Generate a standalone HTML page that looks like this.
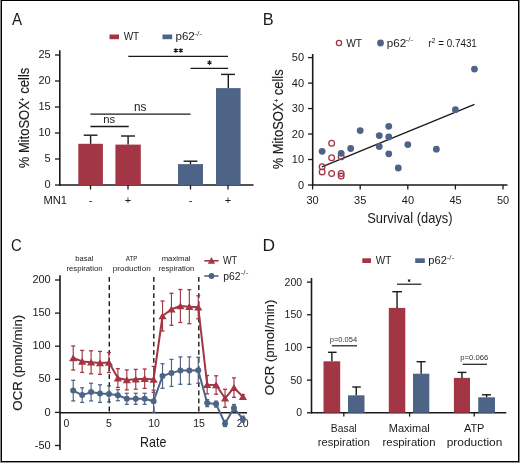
<!DOCTYPE html>
<html><head><meta charset="utf-8"><style>
html,body{margin:0;padding:0;background:#fff;}
svg{display:block;font-family:"Liberation Sans",sans-serif;will-change:transform;}
</style></head><body>
<svg width="520" height="463" viewBox="0 0 520 463">
<rect x="0" y="0" width="520" height="463" fill="#ffffff"/>
<rect x="0" y="0" width="1" height="463" fill="#888"/>
<rect x="519" y="0" width="1" height="463" fill="#888"/>
<rect x="0" y="462" width="520" height="1" fill="#999"/>
<rect x="1" y="0" width="1" height="462" fill="#000"/>
<rect x="518" y="0" width="1" height="462" fill="#000"/>
<rect x="1" y="0" width="518" height="1" fill="#000"/>
<rect x="1" y="461" width="518" height="1" fill="#000"/>
<text transform="translate(11.97,25.00) scale(0.8871,1)" font-size="17" fill="#1a1a1a">A</text>
<rect x="109.5" y="34.5" width="9.50" height="4.70" fill="#a23645"/>
<text transform="translate(123.66,40.30) scale(0.9107,1)" font-size="11" fill="#1a1a1a">WT</text>
<rect x="162.5" y="34.5" width="9.70" height="4.70" fill="#4e6486"/>
<text transform="translate(175.45,40.30) scale(1.0532,1)" font-size="11" fill="#1a1a1a">p62</text>
<text transform="translate(194.23,35.50) scale(1.2030,1)" font-size="7" fill="#444">-/-</text>
<line x1="59.8" y1="50.2" x2="59.8" y2="185.7" stroke="#1a1a1a" stroke-width="1.6" />
<line x1="59" y1="185" x2="253.5" y2="185" stroke="#1a1a1a" stroke-width="1.6" />
<line x1="55" y1="55" x2="59.8" y2="55" stroke="#1a1a1a" stroke-width="1.3" />
<text transform="translate(38.43,57.90) scale(1.0000,1)" font-size="11" fill="#1a1a1a">25</text>
<line x1="55" y1="81" x2="59.8" y2="81" stroke="#1a1a1a" stroke-width="1.3" />
<text transform="translate(38.39,83.90) scale(1.0000,1)" font-size="11" fill="#1a1a1a">20</text>
<line x1="55" y1="107" x2="59.8" y2="107" stroke="#1a1a1a" stroke-width="1.3" />
<text transform="translate(38.43,109.90) scale(1.0000,1)" font-size="11" fill="#1a1a1a">15</text>
<line x1="55" y1="133" x2="59.8" y2="133" stroke="#1a1a1a" stroke-width="1.3" />
<text transform="translate(38.39,135.90) scale(1.0000,1)" font-size="11" fill="#1a1a1a">10</text>
<line x1="55" y1="159" x2="59.8" y2="159" stroke="#1a1a1a" stroke-width="1.3" />
<text transform="translate(44.54,161.90) scale(1.0000,1)" font-size="11" fill="#1a1a1a">5</text>
<line x1="55" y1="185" x2="59.8" y2="185" stroke="#1a1a1a" stroke-width="1.3" />
<text transform="translate(44.51,187.90) scale(1.0000,1)" font-size="11" fill="#1a1a1a">0</text>
<line x1="90.5" y1="185" x2="90.5" y2="189.5" stroke="#1a1a1a" stroke-width="1.3" />
<text transform="translate(88.67,204.00) scale(1.0000,1)" font-size="11" fill="#1a1a1a">-</text>
<line x1="128" y1="185" x2="128" y2="189.5" stroke="#1a1a1a" stroke-width="1.3" />
<text transform="translate(124.79,204.00) scale(1.0000,1)" font-size="11" fill="#1a1a1a">+</text>
<line x1="190.5" y1="185" x2="190.5" y2="189.5" stroke="#1a1a1a" stroke-width="1.3" />
<text transform="translate(188.67,204.00) scale(1.0000,1)" font-size="11" fill="#1a1a1a">-</text>
<line x1="228" y1="185" x2="228" y2="189.5" stroke="#1a1a1a" stroke-width="1.3" />
<text transform="translate(224.79,204.00) scale(1.0000,1)" font-size="11" fill="#1a1a1a">+</text>
<text transform="translate(43.48,203.50) scale(1.0145,1)" font-size="11" fill="#1a1a1a">MN1</text>
<rect x="78.3" y="143.8" width="24.60" height="41.20" fill="#a23645"/>
<line x1="90.6" y1="135.2" x2="90.6" y2="143.8" stroke="#1a1a1a" stroke-width="1.4" />
<line x1="83.7" y1="135.2" x2="97.5" y2="135.2" stroke="#1a1a1a" stroke-width="1.4" />
<rect x="115.4" y="144.6" width="25.40" height="40.40" fill="#a23645"/>
<line x1="128.10000000000002" y1="136" x2="128.10000000000002" y2="144.6" stroke="#1a1a1a" stroke-width="1.4" />
<line x1="121" y1="136" x2="135" y2="136" stroke="#1a1a1a" stroke-width="1.4" />
<rect x="178" y="164.1" width="25.00" height="20.90" fill="#4e6486"/>
<line x1="190.5" y1="161.2" x2="190.5" y2="164.1" stroke="#1a1a1a" stroke-width="1.4" />
<line x1="183.6" y1="161.2" x2="197.4" y2="161.2" stroke="#1a1a1a" stroke-width="1.4" />
<rect x="216" y="88.1" width="24.60" height="96.90" fill="#4e6486"/>
<line x1="228.3" y1="74.4" x2="228.3" y2="88.1" stroke="#1a1a1a" stroke-width="1.4" />
<line x1="221" y1="74.4" x2="235" y2="74.4" stroke="#1a1a1a" stroke-width="1.4" />
<line x1="90.4" y1="126.5" x2="128.7" y2="126.5" stroke="#1a1a1a" stroke-width="1.3" />
<text transform="translate(103.15,122.50) scale(0.9598,1)" font-size="11.8" fill="#1a1a1a">ns</text>
<line x1="90.4" y1="114.2" x2="190.5" y2="114.2" stroke="#1a1a1a" stroke-width="1.25" />
<text transform="translate(134.02,110.60) scale(0.9787,1)" font-size="12" fill="#1a1a1a">ns</text>
<line x1="128.3" y1="56.4" x2="228" y2="56.4" stroke="#1a1a1a" stroke-width="1.25" />
<path d="M175.80 48.20L175.80 52.80M173.81 49.35L177.79 51.65M177.79 49.35L173.81 51.65" stroke="#1a1a1a" stroke-width="1.1" fill="none"/>
<path d="M180.80 48.20L180.80 52.80M178.81 49.35L182.79 51.65M182.79 49.35L178.81 51.65" stroke="#1a1a1a" stroke-width="1.1" fill="none"/>
<line x1="190.5" y1="68.3" x2="228.2" y2="68.3" stroke="#1a1a1a" stroke-width="1.25" />
<path d="M209.50 60.30L209.50 64.90M207.51 61.45L211.49 63.75M211.49 61.45L207.51 63.75" stroke="#1a1a1a" stroke-width="1.1" fill="none"/>
<text transform="translate(29.00,168.26) rotate(-90) scale(0.9280,1)" fill="#1a1a1a" stroke="#1a1a1a" stroke-width="0.12"><tspan x="0.00" y="0" font-size="14">% MitoSOX</tspan><tspan x="72.35" y="-3.8" font-size="7">+</tspan><tspan x="76.44" y="0" font-size="14"> cells</tspan></text>
<text transform="translate(262.66,24.80) scale(1.0217,1)" font-size="16" fill="#1a1a1a">B</text>
<circle cx="339" cy="43" r="2.6" fill="none" stroke="#a23645" stroke-width="1.3"/>
<text transform="translate(346.16,47.00) scale(0.9285,1)" font-size="11" fill="#1a1a1a">WT</text>
<circle cx="380.5" cy="43" r="3.4" fill="#4e6486"/>
<text transform="translate(386.75,47.00) scale(1.0590,1)" font-size="11" fill="#1a1a1a">p62</text>
<text transform="translate(405.65,42.00) scale(1.1362,1)" font-size="7" fill="#444">-/-</text>
<text transform="translate(428.35,47.00) scale(0.8939,1)" fill="#1a1a1a"><tspan x="0.00" y="0" font-size="11">r</tspan><tspan x="3.66" y="-4.5" font-size="8">2</tspan><tspan x="8.11" y="0" font-size="11"> = 0.7431</tspan></text>
<line x1="312.7" y1="54" x2="312.7" y2="185.7" stroke="#1a1a1a" stroke-width="1.6" />
<line x1="312" y1="185" x2="507.5" y2="185" stroke="#1a1a1a" stroke-width="1.6" />
<line x1="308" y1="57.6" x2="312.7" y2="57.6" stroke="#1a1a1a" stroke-width="1.3" />
<text transform="translate(291.79,61.20) scale(1.0000,1)" font-size="11" fill="#1a1a1a">50</text>
<line x1="308" y1="83.08" x2="312.7" y2="83.08" stroke="#1a1a1a" stroke-width="1.3" />
<text transform="translate(291.79,86.68) scale(1.0000,1)" font-size="11" fill="#1a1a1a">40</text>
<line x1="308" y1="108.56" x2="312.7" y2="108.56" stroke="#1a1a1a" stroke-width="1.3" />
<text transform="translate(291.79,112.16) scale(1.0000,1)" font-size="11" fill="#1a1a1a">30</text>
<line x1="308" y1="134.04" x2="312.7" y2="134.04" stroke="#1a1a1a" stroke-width="1.3" />
<text transform="translate(291.79,137.64) scale(1.0000,1)" font-size="11" fill="#1a1a1a">20</text>
<line x1="308" y1="159.52" x2="312.7" y2="159.52" stroke="#1a1a1a" stroke-width="1.3" />
<text transform="translate(291.79,163.12) scale(1.0000,1)" font-size="11" fill="#1a1a1a">10</text>
<line x1="308" y1="185.0" x2="312.7" y2="185.0" stroke="#1a1a1a" stroke-width="1.3" />
<text transform="translate(297.91,188.60) scale(1.0000,1)" font-size="11" fill="#1a1a1a">0</text>
<line x1="312.6" y1="185" x2="312.6" y2="189.5" stroke="#1a1a1a" stroke-width="1.3" />
<text transform="translate(306.49,203.70) scale(1.0000,1)" font-size="11" fill="#1a1a1a">30</text>
<line x1="360.20000000000005" y1="185" x2="360.20000000000005" y2="189.5" stroke="#1a1a1a" stroke-width="1.3" />
<text transform="translate(354.10,203.70) scale(1.0000,1)" font-size="11" fill="#1a1a1a">35</text>
<line x1="407.8" y1="185" x2="407.8" y2="189.5" stroke="#1a1a1a" stroke-width="1.3" />
<text transform="translate(401.77,203.70) scale(1.0000,1)" font-size="11" fill="#1a1a1a">40</text>
<line x1="455.40000000000003" y1="185" x2="455.40000000000003" y2="189.5" stroke="#1a1a1a" stroke-width="1.3" />
<text transform="translate(449.39,203.70) scale(1.0000,1)" font-size="11" fill="#1a1a1a">45</text>
<line x1="503.0" y1="185" x2="503.0" y2="189.5" stroke="#1a1a1a" stroke-width="1.3" />
<text transform="translate(496.88,203.70) scale(1.0000,1)" font-size="11" fill="#1a1a1a">50</text>
<text transform="translate(367.21,223.30) scale(0.9223,1)" font-size="14" fill="#1a1a1a">Survival (days)</text>
<text transform="translate(282.80,169.36) rotate(-90) scale(0.9233,1)" fill="#1a1a1a" stroke="#1a1a1a" stroke-width="0.12"><tspan x="0.00" y="0" font-size="14">% MitoSOX</tspan><tspan x="72.35" y="-3.8" font-size="7">+</tspan><tspan x="76.44" y="0" font-size="14"> cells</tspan></text>
<line x1="321.9" y1="166.8" x2="474.5" y2="104.4" stroke="#1a1a1a" stroke-width="1.4" />
<circle cx="331.64" cy="143.3" r="2.85" fill="none" stroke="#a23645" stroke-width="1.3"/>
<circle cx="331.64" cy="157.7" r="2.85" fill="none" stroke="#a23645" stroke-width="1.3"/>
<circle cx="341.16" cy="156.7" r="2.85" fill="none" stroke="#a23645" stroke-width="1.3"/>
<circle cx="322.12" cy="166.7" r="2.85" fill="none" stroke="#a23645" stroke-width="1.3"/>
<circle cx="322.12" cy="171.9" r="2.85" fill="none" stroke="#a23645" stroke-width="1.3"/>
<circle cx="331.64" cy="173.5" r="2.85" fill="none" stroke="#a23645" stroke-width="1.3"/>
<circle cx="341.16" cy="173.5" r="2.85" fill="none" stroke="#a23645" stroke-width="1.3"/>
<circle cx="341.16" cy="176.1" r="2.85" fill="none" stroke="#a23645" stroke-width="1.3"/>
<circle cx="322.12" cy="151.3" r="3.4" fill="#4e6486"/>
<circle cx="341.16" cy="153.3" r="3.4" fill="#4e6486"/>
<circle cx="350.68" cy="148.5" r="3.4" fill="#4e6486"/>
<circle cx="360.20" cy="130.6" r="3.4" fill="#4e6486"/>
<circle cx="379.24" cy="135.6" r="3.4" fill="#4e6486"/>
<circle cx="379.24" cy="146.5" r="3.4" fill="#4e6486"/>
<circle cx="388.76" cy="126.3" r="3.4" fill="#4e6486"/>
<circle cx="388.76" cy="136.9" r="3.4" fill="#4e6486"/>
<circle cx="388.76" cy="153.8" r="3.4" fill="#4e6486"/>
<circle cx="398.28" cy="168" r="3.4" fill="#4e6486"/>
<circle cx="407.80" cy="144.6" r="3.4" fill="#4e6486"/>
<circle cx="436.36" cy="149.2" r="3.4" fill="#4e6486"/>
<circle cx="455.40" cy="109.7" r="3.4" fill="#4e6486"/>
<circle cx="474.44" cy="69.1" r="3.4" fill="#4e6486"/>
<text transform="translate(11.05,250.70) scale(0.8731,1)" font-size="17" fill="#1a1a1a">C</text>
<line x1="60" y1="275.2" x2="60" y2="450" stroke="#1a1a1a" stroke-width="1.6" />
<line x1="60" y1="412.7" x2="247" y2="412.7" stroke="#1a1a1a" stroke-width="1.6" />
<line x1="55" y1="280.0" x2="60" y2="280.0" stroke="#1a1a1a" stroke-width="1.3" />
<text transform="translate(32.38,283.10) scale(1.0000,1)" font-size="11" fill="#1a1a1a">200</text>
<line x1="55" y1="313.1" x2="60" y2="313.1" stroke="#1a1a1a" stroke-width="1.3" />
<text transform="translate(32.38,316.20) scale(1.0000,1)" font-size="11" fill="#1a1a1a">150</text>
<line x1="55" y1="346.2" x2="60" y2="346.2" stroke="#1a1a1a" stroke-width="1.3" />
<text transform="translate(32.38,349.30) scale(1.0000,1)" font-size="11" fill="#1a1a1a">100</text>
<line x1="55" y1="379.3" x2="60" y2="379.3" stroke="#1a1a1a" stroke-width="1.3" />
<text transform="translate(38.49,382.40) scale(1.0000,1)" font-size="11" fill="#1a1a1a">50</text>
<line x1="55" y1="412.4" x2="60" y2="412.4" stroke="#1a1a1a" stroke-width="1.3" />
<text transform="translate(44.61,415.50) scale(1.0000,1)" font-size="11" fill="#1a1a1a">0</text>
<line x1="55" y1="445.5" x2="60" y2="445.5" stroke="#1a1a1a" stroke-width="1.3" />
<text transform="translate(34.83,448.60) scale(1.0000,1)" font-size="11" fill="#1a1a1a">-50</text>
<text transform="translate(63.58,427.30) scale(1.0000,1)" font-size="10.5" fill="#1a1a1a">0</text>
<text transform="translate(105.89,427.30) scale(1.0000,1)" font-size="10.5" fill="#1a1a1a">5</text>
<text transform="translate(148.17,427.30) scale(1.0000,1)" font-size="10.5" fill="#1a1a1a">10</text>
<text transform="translate(193.18,427.30) scale(1.0000,1)" font-size="10.5" fill="#1a1a1a">15</text>
<text transform="translate(236.80,427.30) scale(1.0000,1)" font-size="10.5" fill="#1a1a1a">20</text>
<text transform="translate(139.98,446.80) scale(0.8920,1)" font-size="14" fill="#1a1a1a">Rate</text>
<line x1="109.3" y1="277" x2="109.3" y2="412.7" stroke="#1a1a1a" stroke-width="1.4" stroke-dasharray="4.8 3.3"/>
<line x1="153.8" y1="277" x2="153.8" y2="412.7" stroke="#1a1a1a" stroke-width="1.4" stroke-dasharray="4.8 3.3"/>
<line x1="198.8" y1="277" x2="198.8" y2="412.7" stroke="#1a1a1a" stroke-width="1.4" stroke-dasharray="4.8 3.3"/>
<text transform="translate(75.31,261.40) scale(0.9637,1)" font-size="7.9" fill="#1a1a1a">basal</text>
<text transform="translate(66.38,270.60) scale(0.9820,1)" font-size="7.9" fill="#1a1a1a">respiration</text>
<text transform="translate(125.79,261.40) scale(0.7969,1)" font-size="7.9" fill="#1a1a1a">ATP</text>
<text transform="translate(112.78,270.60) scale(1.0287,1)" font-size="7.9" fill="#1a1a1a">production</text>
<text transform="translate(161.69,261.40) scale(0.9769,1)" font-size="7.9" fill="#1a1a1a">maximal</text>
<text transform="translate(158.69,270.60) scale(0.9652,1)" font-size="7.9" fill="#1a1a1a">respiration</text>
<text transform="translate(22.20,410.63) rotate(-90) scale(0.9841,1)" fill="#1a1a1a" stroke="#1a1a1a" stroke-width="0.12"><tspan x="0.00" y="0" font-size="13.5">OCR (pmol/min)</tspan></text>
<line x1="204.3" y1="260.8" x2="218.5" y2="260.8" stroke="#a23645" stroke-width="1.6" />
<path d="M211.5 257 L215.2 263.7 L207.8 263.7 Z" fill="#a23645"/>
<text transform="translate(222.96,263.90) scale(0.8333,1)" font-size="11" fill="#1a1a1a">WT</text>
<line x1="204.3" y1="276" x2="218.5" y2="276" stroke="#4e6486" stroke-width="1.6" />
<circle cx="211.5" cy="276" r="2.9" fill="#4e6486"/>
<text transform="translate(223.13,279.50) scale(0.9479,1)" font-size="11" fill="#1a1a1a">p62</text>
<text transform="translate(240.64,274.50) scale(1.1696,1)" font-size="7" fill="#444">-/-</text>
<line x1="73.22999999999999" y1="346" x2="73.22999999999999" y2="370" stroke="#a23645" stroke-width="1.15" />
<line x1="71.22999999999999" y1="346" x2="75.22999999999999" y2="346" stroke="#a23645" stroke-width="1.3" />
<line x1="71.22999999999999" y1="370" x2="75.22999999999999" y2="370" stroke="#a23645" stroke-width="1.3" />
<line x1="82.16" y1="350.4" x2="82.16" y2="372.4" stroke="#a23645" stroke-width="1.15" />
<line x1="80.16" y1="350.4" x2="84.16" y2="350.4" stroke="#a23645" stroke-width="1.3" />
<line x1="80.16" y1="372.4" x2="84.16" y2="372.4" stroke="#a23645" stroke-width="1.3" />
<line x1="91.09" y1="350.8" x2="91.09" y2="373.8" stroke="#a23645" stroke-width="1.15" />
<line x1="89.09" y1="350.8" x2="93.09" y2="350.8" stroke="#a23645" stroke-width="1.3" />
<line x1="89.09" y1="373.8" x2="93.09" y2="373.8" stroke="#a23645" stroke-width="1.3" />
<line x1="100.02" y1="351.4" x2="100.02" y2="374.4" stroke="#a23645" stroke-width="1.15" />
<line x1="98.02" y1="351.4" x2="102.02" y2="351.4" stroke="#a23645" stroke-width="1.3" />
<line x1="98.02" y1="374.4" x2="102.02" y2="374.4" stroke="#a23645" stroke-width="1.3" />
<line x1="108.94999999999999" y1="352.5" x2="108.94999999999999" y2="372.5" stroke="#a23645" stroke-width="1.15" />
<line x1="106.94999999999999" y1="352.5" x2="110.94999999999999" y2="352.5" stroke="#a23645" stroke-width="1.3" />
<line x1="106.94999999999999" y1="372.5" x2="110.94999999999999" y2="372.5" stroke="#a23645" stroke-width="1.3" />
<line x1="117.88" y1="368.70000000000005" x2="117.88" y2="387.5" stroke="#a23645" stroke-width="1.15" />
<line x1="115.88" y1="368.70000000000005" x2="119.88" y2="368.70000000000005" stroke="#a23645" stroke-width="1.3" />
<line x1="115.88" y1="387.5" x2="119.88" y2="387.5" stroke="#a23645" stroke-width="1.3" />
<line x1="126.81" y1="369.9" x2="126.81" y2="389.9" stroke="#a23645" stroke-width="1.15" />
<line x1="124.81" y1="369.9" x2="128.81" y2="369.9" stroke="#a23645" stroke-width="1.3" />
<line x1="124.81" y1="389.9" x2="128.81" y2="389.9" stroke="#a23645" stroke-width="1.3" />
<line x1="135.74" y1="369.40000000000003" x2="135.74" y2="389.2" stroke="#a23645" stroke-width="1.15" />
<line x1="133.74" y1="369.40000000000003" x2="137.74" y2="369.40000000000003" stroke="#a23645" stroke-width="1.3" />
<line x1="133.74" y1="389.2" x2="137.74" y2="389.2" stroke="#a23645" stroke-width="1.3" />
<line x1="144.67000000000002" y1="369.0" x2="144.67000000000002" y2="388.4" stroke="#a23645" stroke-width="1.15" />
<line x1="142.67000000000002" y1="369.0" x2="146.67000000000002" y2="369.0" stroke="#a23645" stroke-width="1.3" />
<line x1="142.67000000000002" y1="388.4" x2="146.67000000000002" y2="388.4" stroke="#a23645" stroke-width="1.3" />
<line x1="153.6" y1="366.4" x2="153.6" y2="392.4" stroke="#a23645" stroke-width="1.15" />
<line x1="151.6" y1="366.4" x2="155.6" y2="366.4" stroke="#a23645" stroke-width="1.3" />
<line x1="151.6" y1="392.4" x2="155.6" y2="392.4" stroke="#a23645" stroke-width="1.3" />
<line x1="162.52999999999997" y1="301" x2="162.52999999999997" y2="331" stroke="#a23645" stroke-width="1.15" />
<line x1="160.52999999999997" y1="301" x2="164.52999999999997" y2="301" stroke="#a23645" stroke-width="1.3" />
<line x1="160.52999999999997" y1="331" x2="164.52999999999997" y2="331" stroke="#a23645" stroke-width="1.3" />
<line x1="171.45999999999998" y1="293.3" x2="171.45999999999998" y2="325.3" stroke="#a23645" stroke-width="1.15" />
<line x1="169.45999999999998" y1="293.3" x2="173.45999999999998" y2="293.3" stroke="#a23645" stroke-width="1.3" />
<line x1="169.45999999999998" y1="325.3" x2="173.45999999999998" y2="325.3" stroke="#a23645" stroke-width="1.3" />
<line x1="180.39" y1="289.5" x2="180.39" y2="322.5" stroke="#a23645" stroke-width="1.15" />
<line x1="178.39" y1="289.5" x2="182.39" y2="289.5" stroke="#a23645" stroke-width="1.3" />
<line x1="178.39" y1="322.5" x2="182.39" y2="322.5" stroke="#a23645" stroke-width="1.3" />
<line x1="189.32" y1="289.7" x2="189.32" y2="323.7" stroke="#a23645" stroke-width="1.15" />
<line x1="187.32" y1="289.7" x2="191.32" y2="289.7" stroke="#a23645" stroke-width="1.3" />
<line x1="187.32" y1="323.7" x2="191.32" y2="323.7" stroke="#a23645" stroke-width="1.3" />
<line x1="198.25" y1="295.8" x2="198.25" y2="318.8" stroke="#a23645" stroke-width="1.15" />
<line x1="196.25" y1="295.8" x2="200.25" y2="295.8" stroke="#a23645" stroke-width="1.3" />
<line x1="196.25" y1="318.8" x2="200.25" y2="318.8" stroke="#a23645" stroke-width="1.3" />
<line x1="207.18" y1="375.5" x2="207.18" y2="393.9" stroke="#a23645" stroke-width="1.15" />
<line x1="205.18" y1="375.5" x2="209.18" y2="375.5" stroke="#a23645" stroke-width="1.3" />
<line x1="205.18" y1="393.9" x2="209.18" y2="393.9" stroke="#a23645" stroke-width="1.3" />
<line x1="216.11" y1="375.8" x2="216.11" y2="394.2" stroke="#a23645" stroke-width="1.15" />
<line x1="214.11" y1="375.8" x2="218.11" y2="375.8" stroke="#a23645" stroke-width="1.3" />
<line x1="214.11" y1="394.2" x2="218.11" y2="394.2" stroke="#a23645" stroke-width="1.3" />
<line x1="225.04000000000002" y1="389.3" x2="225.04000000000002" y2="407.3" stroke="#a23645" stroke-width="1.15" />
<line x1="223.04000000000002" y1="389.3" x2="227.04000000000002" y2="389.3" stroke="#a23645" stroke-width="1.3" />
<line x1="223.04000000000002" y1="407.3" x2="227.04000000000002" y2="407.3" stroke="#a23645" stroke-width="1.3" />
<line x1="233.96999999999997" y1="377.90000000000003" x2="233.96999999999997" y2="397.3" stroke="#a23645" stroke-width="1.15" />
<line x1="231.96999999999997" y1="377.90000000000003" x2="235.96999999999997" y2="377.90000000000003" stroke="#a23645" stroke-width="1.3" />
<line x1="231.96999999999997" y1="397.3" x2="235.96999999999997" y2="397.3" stroke="#a23645" stroke-width="1.3" />
<line x1="242.89999999999998" y1="394.7" x2="242.89999999999998" y2="398.7" stroke="#a23645" stroke-width="1.15" />
<line x1="240.89999999999998" y1="394.7" x2="244.89999999999998" y2="394.7" stroke="#a23645" stroke-width="1.3" />
<line x1="240.89999999999998" y1="398.7" x2="244.89999999999998" y2="398.7" stroke="#a23645" stroke-width="1.3" />
<line x1="73.22999999999999" y1="380.3" x2="73.22999999999999" y2="400.90000000000003" stroke="#4e6486" stroke-width="1.15" />
<line x1="71.22999999999999" y1="380.3" x2="75.22999999999999" y2="380.3" stroke="#4e6486" stroke-width="1.3" />
<line x1="71.22999999999999" y1="400.90000000000003" x2="75.22999999999999" y2="400.90000000000003" stroke="#4e6486" stroke-width="1.3" />
<line x1="82.16" y1="387.8" x2="82.16" y2="402.40000000000003" stroke="#4e6486" stroke-width="1.15" />
<line x1="80.16" y1="387.8" x2="84.16" y2="387.8" stroke="#4e6486" stroke-width="1.3" />
<line x1="80.16" y1="402.40000000000003" x2="84.16" y2="402.40000000000003" stroke="#4e6486" stroke-width="1.3" />
<line x1="91.09" y1="383.3" x2="91.09" y2="400.90000000000003" stroke="#4e6486" stroke-width="1.15" />
<line x1="89.09" y1="383.3" x2="93.09" y2="383.3" stroke="#4e6486" stroke-width="1.3" />
<line x1="89.09" y1="400.90000000000003" x2="93.09" y2="400.90000000000003" stroke="#4e6486" stroke-width="1.3" />
<line x1="100.02" y1="384.8" x2="100.02" y2="402.40000000000003" stroke="#4e6486" stroke-width="1.15" />
<line x1="98.02" y1="384.8" x2="102.02" y2="384.8" stroke="#4e6486" stroke-width="1.3" />
<line x1="98.02" y1="402.40000000000003" x2="102.02" y2="402.40000000000003" stroke="#4e6486" stroke-width="1.3" />
<line x1="108.94999999999999" y1="385.9" x2="108.94999999999999" y2="401.9" stroke="#4e6486" stroke-width="1.15" />
<line x1="106.94999999999999" y1="385.9" x2="110.94999999999999" y2="385.9" stroke="#4e6486" stroke-width="1.3" />
<line x1="106.94999999999999" y1="401.9" x2="110.94999999999999" y2="401.9" stroke="#4e6486" stroke-width="1.3" />
<line x1="117.88" y1="389.7" x2="117.88" y2="400.7" stroke="#4e6486" stroke-width="1.15" />
<line x1="115.88" y1="389.7" x2="119.88" y2="389.7" stroke="#4e6486" stroke-width="1.3" />
<line x1="115.88" y1="400.7" x2="119.88" y2="400.7" stroke="#4e6486" stroke-width="1.3" />
<line x1="126.81" y1="393.3" x2="126.81" y2="404.3" stroke="#4e6486" stroke-width="1.15" />
<line x1="124.81" y1="393.3" x2="128.81" y2="393.3" stroke="#4e6486" stroke-width="1.3" />
<line x1="124.81" y1="404.3" x2="128.81" y2="404.3" stroke="#4e6486" stroke-width="1.3" />
<line x1="135.74" y1="393.3" x2="135.74" y2="404.3" stroke="#4e6486" stroke-width="1.15" />
<line x1="133.74" y1="393.3" x2="137.74" y2="393.3" stroke="#4e6486" stroke-width="1.3" />
<line x1="133.74" y1="404.3" x2="137.74" y2="404.3" stroke="#4e6486" stroke-width="1.3" />
<line x1="144.67000000000002" y1="393.3" x2="144.67000000000002" y2="404.3" stroke="#4e6486" stroke-width="1.15" />
<line x1="142.67000000000002" y1="393.3" x2="146.67000000000002" y2="393.3" stroke="#4e6486" stroke-width="1.3" />
<line x1="142.67000000000002" y1="404.3" x2="146.67000000000002" y2="404.3" stroke="#4e6486" stroke-width="1.3" />
<line x1="153.6" y1="390.2" x2="153.6" y2="412.2" stroke="#4e6486" stroke-width="1.15" />
<line x1="151.6" y1="390.2" x2="155.6" y2="390.2" stroke="#4e6486" stroke-width="1.3" />
<line x1="151.6" y1="412.2" x2="155.6" y2="412.2" stroke="#4e6486" stroke-width="1.3" />
<line x1="162.52999999999997" y1="363.7" x2="162.52999999999997" y2="388.3" stroke="#4e6486" stroke-width="1.15" />
<line x1="160.52999999999997" y1="363.7" x2="164.52999999999997" y2="363.7" stroke="#4e6486" stroke-width="1.3" />
<line x1="160.52999999999997" y1="388.3" x2="164.52999999999997" y2="388.3" stroke="#4e6486" stroke-width="1.3" />
<line x1="171.45999999999998" y1="359.4" x2="171.45999999999998" y2="386.4" stroke="#4e6486" stroke-width="1.15" />
<line x1="169.45999999999998" y1="359.4" x2="173.45999999999998" y2="359.4" stroke="#4e6486" stroke-width="1.3" />
<line x1="169.45999999999998" y1="386.4" x2="173.45999999999998" y2="386.4" stroke="#4e6486" stroke-width="1.3" />
<line x1="180.39" y1="356.90000000000003" x2="180.39" y2="384.3" stroke="#4e6486" stroke-width="1.15" />
<line x1="178.39" y1="356.90000000000003" x2="182.39" y2="356.90000000000003" stroke="#4e6486" stroke-width="1.3" />
<line x1="178.39" y1="384.3" x2="182.39" y2="384.3" stroke="#4e6486" stroke-width="1.3" />
<line x1="189.32" y1="356.90000000000003" x2="189.32" y2="384.3" stroke="#4e6486" stroke-width="1.15" />
<line x1="187.32" y1="356.90000000000003" x2="191.32" y2="356.90000000000003" stroke="#4e6486" stroke-width="1.3" />
<line x1="187.32" y1="384.3" x2="191.32" y2="384.3" stroke="#4e6486" stroke-width="1.3" />
<line x1="198.25" y1="357.3" x2="198.25" y2="383.3" stroke="#4e6486" stroke-width="1.15" />
<line x1="196.25" y1="357.3" x2="200.25" y2="357.3" stroke="#4e6486" stroke-width="1.3" />
<line x1="196.25" y1="383.3" x2="200.25" y2="383.3" stroke="#4e6486" stroke-width="1.3" />
<line x1="207.18" y1="399.6" x2="207.18" y2="406.6" stroke="#4e6486" stroke-width="1.15" />
<line x1="205.18" y1="399.6" x2="209.18" y2="399.6" stroke="#4e6486" stroke-width="1.3" />
<line x1="205.18" y1="406.6" x2="209.18" y2="406.6" stroke="#4e6486" stroke-width="1.3" />
<line x1="216.11" y1="401.1" x2="216.11" y2="407.1" stroke="#4e6486" stroke-width="1.15" />
<line x1="214.11" y1="401.1" x2="218.11" y2="401.1" stroke="#4e6486" stroke-width="1.3" />
<line x1="214.11" y1="407.1" x2="218.11" y2="407.1" stroke="#4e6486" stroke-width="1.3" />
<line x1="225.04000000000002" y1="420.5" x2="225.04000000000002" y2="426.5" stroke="#4e6486" stroke-width="1.15" />
<line x1="223.04000000000002" y1="420.5" x2="227.04000000000002" y2="420.5" stroke="#4e6486" stroke-width="1.3" />
<line x1="223.04000000000002" y1="426.5" x2="227.04000000000002" y2="426.5" stroke="#4e6486" stroke-width="1.3" />
<line x1="233.96999999999997" y1="404.5" x2="233.96999999999997" y2="411.5" stroke="#4e6486" stroke-width="1.15" />
<line x1="231.96999999999997" y1="404.5" x2="235.96999999999997" y2="404.5" stroke="#4e6486" stroke-width="1.3" />
<line x1="231.96999999999997" y1="411.5" x2="235.96999999999997" y2="411.5" stroke="#4e6486" stroke-width="1.3" />
<line x1="242.89999999999998" y1="416.2" x2="242.89999999999998" y2="422.2" stroke="#4e6486" stroke-width="1.15" />
<line x1="240.89999999999998" y1="416.2" x2="244.89999999999998" y2="416.2" stroke="#4e6486" stroke-width="1.3" />
<line x1="240.89999999999998" y1="422.2" x2="244.89999999999998" y2="422.2" stroke="#4e6486" stroke-width="1.3" />
<polyline points="73.23,358 82.16,361.4 91.09,362.3 100.02,362.9 108.95,362.5 117.88,378.1 126.81,379.9 135.74,379.3 144.67,378.7 153.60,379.4 162.53,316 171.46,309.3 180.39,306 189.32,306.7 198.25,307.3 207.18,384.7 216.11,385 225.04,398.3 233.97,387.6 242.90,396.7" fill="none" stroke="#a23645" stroke-width="2" stroke-linejoin="round"/>
<polyline points="73.23,390.6 82.16,395.1 91.09,392.1 100.02,393.6 108.95,393.9 117.88,395.2 126.81,398.8 135.74,398.8 144.67,398.8 153.60,401.2 162.53,376 171.46,372.9 180.39,370.6 189.32,370.6 198.25,370.3 207.18,403.1 216.11,404.1 225.04,423.5 233.97,408 242.90,419.2" fill="none" stroke="#4e6486" stroke-width="2" stroke-linejoin="round"/>
<path d="M73.23 354.40 L77.33 361.30 L69.13 361.30 Z" fill="#a23645"/>
<path d="M82.16 357.80 L86.26 364.70 L78.06 364.70 Z" fill="#a23645"/>
<path d="M91.09 358.70 L95.19 365.60 L86.99 365.60 Z" fill="#a23645"/>
<path d="M100.02 359.30 L104.12 366.20 L95.92 366.20 Z" fill="#a23645"/>
<path d="M108.95 358.90 L113.05 365.80 L104.85 365.80 Z" fill="#a23645"/>
<path d="M117.88 374.50 L121.98 381.40 L113.78 381.40 Z" fill="#a23645"/>
<path d="M126.81 376.30 L130.91 383.20 L122.71 383.20 Z" fill="#a23645"/>
<path d="M135.74 375.70 L139.84 382.60 L131.64 382.60 Z" fill="#a23645"/>
<path d="M144.67 375.10 L148.77 382.00 L140.57 382.00 Z" fill="#a23645"/>
<path d="M153.60 375.80 L157.70 382.70 L149.50 382.70 Z" fill="#a23645"/>
<path d="M162.53 312.40 L166.63 319.30 L158.43 319.30 Z" fill="#a23645"/>
<path d="M171.46 305.70 L175.56 312.60 L167.36 312.60 Z" fill="#a23645"/>
<path d="M180.39 302.40 L184.49 309.30 L176.29 309.30 Z" fill="#a23645"/>
<path d="M189.32 303.10 L193.42 310.00 L185.22 310.00 Z" fill="#a23645"/>
<path d="M198.25 303.70 L202.35 310.60 L194.15 310.60 Z" fill="#a23645"/>
<path d="M207.18 381.10 L211.28 388.00 L203.08 388.00 Z" fill="#a23645"/>
<path d="M216.11 381.40 L220.21 388.30 L212.01 388.30 Z" fill="#a23645"/>
<path d="M225.04 394.70 L229.14 401.60 L220.94 401.60 Z" fill="#a23645"/>
<path d="M233.97 384.00 L238.07 390.90 L229.87 390.90 Z" fill="#a23645"/>
<path d="M242.90 393.10 L247.00 400.00 L238.80 400.00 Z" fill="#a23645"/>
<circle cx="73.23" cy="390.6" r="3" fill="#4e6486"/>
<circle cx="82.16" cy="395.1" r="3" fill="#4e6486"/>
<circle cx="91.09" cy="392.1" r="3" fill="#4e6486"/>
<circle cx="100.02" cy="393.6" r="3" fill="#4e6486"/>
<circle cx="108.95" cy="393.9" r="3" fill="#4e6486"/>
<circle cx="117.88" cy="395.2" r="3" fill="#4e6486"/>
<circle cx="126.81" cy="398.8" r="3" fill="#4e6486"/>
<circle cx="135.74" cy="398.8" r="3" fill="#4e6486"/>
<circle cx="144.67" cy="398.8" r="3" fill="#4e6486"/>
<circle cx="153.60" cy="401.2" r="3" fill="#4e6486"/>
<circle cx="162.53" cy="376" r="3" fill="#4e6486"/>
<circle cx="171.46" cy="372.9" r="3" fill="#4e6486"/>
<circle cx="180.39" cy="370.6" r="3" fill="#4e6486"/>
<circle cx="189.32" cy="370.6" r="3" fill="#4e6486"/>
<circle cx="198.25" cy="370.3" r="3" fill="#4e6486"/>
<circle cx="207.18" cy="403.1" r="3" fill="#4e6486"/>
<circle cx="216.11" cy="404.1" r="3" fill="#4e6486"/>
<circle cx="225.04" cy="423.5" r="3" fill="#4e6486"/>
<circle cx="233.97" cy="408" r="3" fill="#4e6486"/>
<circle cx="242.90" cy="419.2" r="3" fill="#4e6486"/>
<text transform="translate(262.57,250.60) scale(1.0869,1)" font-size="16" fill="#1a1a1a">D</text>
<rect x="362.3" y="258.3" width="8.70" height="4.70" fill="#a23645"/>
<text transform="translate(375.76,264.00) scale(0.9952,1)" font-size="10" fill="#1a1a1a">WT</text>
<rect x="415.2" y="258.3" width="9.60" height="4.70" fill="#4e6486"/>
<text transform="translate(428.28,264.00) scale(1.1135,1)" font-size="10" fill="#1a1a1a">p62</text>
<text transform="translate(446.64,259.50) scale(1.2596,1)" font-size="6.5" fill="#444">-/-</text>
<line x1="311.5" y1="278" x2="311.5" y2="413.5" stroke="#1a1a1a" stroke-width="1.6" />
<line x1="311" y1="412.8" x2="506.3" y2="412.8" stroke="#1a1a1a" stroke-width="1.6" />
<line x1="307" y1="282.1" x2="311.5" y2="282.1" stroke="#1a1a1a" stroke-width="1.3" />
<text transform="translate(284.59,285.60) scale(1.0000,1)" font-size="10.5" fill="#1a1a1a">200</text>
<line x1="307" y1="314.77000000000004" x2="311.5" y2="314.77000000000004" stroke="#1a1a1a" stroke-width="1.3" />
<text transform="translate(284.59,318.27) scale(1.0000,1)" font-size="10.5" fill="#1a1a1a">150</text>
<line x1="307" y1="347.44000000000005" x2="311.5" y2="347.44000000000005" stroke="#1a1a1a" stroke-width="1.3" />
<text transform="translate(284.59,350.94) scale(1.0000,1)" font-size="10.5" fill="#1a1a1a">100</text>
<line x1="307" y1="380.11" x2="311.5" y2="380.11" stroke="#1a1a1a" stroke-width="1.3" />
<text transform="translate(290.43,383.61) scale(1.0000,1)" font-size="10.5" fill="#1a1a1a">50</text>
<line x1="307" y1="412.78000000000003" x2="311.5" y2="412.78000000000003" stroke="#1a1a1a" stroke-width="1.3" />
<text transform="translate(296.27,416.28) scale(1.0000,1)" font-size="10.5" fill="#1a1a1a">0</text>
<line x1="343.8" y1="412.8" x2="343.8" y2="416.6" stroke="#1a1a1a" stroke-width="1.3" />
<line x1="409.6" y1="412.8" x2="409.6" y2="416.6" stroke="#1a1a1a" stroke-width="1.3" />
<line x1="474.2" y1="412.8" x2="474.2" y2="416.6" stroke="#1a1a1a" stroke-width="1.3" />
<rect x="323.5" y="361.3" width="16.70" height="51.50" fill="#a23645"/>
<line x1="331.85" y1="352.3" x2="331.85" y2="361.3" stroke="#1a1a1a" stroke-width="1.4" />
<line x1="328.1" y1="352.3" x2="336.6" y2="352.3" stroke="#1a1a1a" stroke-width="1.4" />
<rect x="348" y="395.3" width="16.50" height="17.50" fill="#4e6486"/>
<line x1="356.25" y1="387" x2="356.25" y2="395.3" stroke="#1a1a1a" stroke-width="1.4" />
<line x1="352.3" y1="387" x2="360.8" y2="387" stroke="#1a1a1a" stroke-width="1.4" />
<rect x="388.8" y="307.9" width="16.50" height="104.90" fill="#a23645"/>
<line x1="397.05" y1="291.7" x2="397.05" y2="307.9" stroke="#1a1a1a" stroke-width="1.4" />
<line x1="392.3" y1="291.7" x2="402" y2="291.7" stroke="#1a1a1a" stroke-width="1.4" />
<rect x="413" y="373.7" width="16.30" height="39.10" fill="#4e6486"/>
<line x1="421.15" y1="361.7" x2="421.15" y2="373.7" stroke="#1a1a1a" stroke-width="1.4" />
<line x1="416.6" y1="361.7" x2="425.6" y2="361.7" stroke="#1a1a1a" stroke-width="1.4" />
<rect x="453.9" y="377.9" width="16.10" height="34.90" fill="#a23645"/>
<line x1="461.95" y1="372.4" x2="461.95" y2="377.9" stroke="#1a1a1a" stroke-width="1.4" />
<line x1="457.6" y1="372.4" x2="466.4" y2="372.4" stroke="#1a1a1a" stroke-width="1.4" />
<rect x="478.2" y="397.3" width="16.80" height="15.50" fill="#4e6486"/>
<line x1="486.6" y1="394.8" x2="486.6" y2="397.3" stroke="#1a1a1a" stroke-width="1.4" />
<line x1="482" y1="394.8" x2="491" y2="394.8" stroke="#1a1a1a" stroke-width="1.4" />
<line x1="331.8" y1="345.8" x2="357" y2="345.8" stroke="#1a1a1a" stroke-width="1.2" />
<text transform="translate(329.71,341.70) scale(1.0345,1)" font-size="7.3" fill="#333">p=0.054</text>
<line x1="397" y1="284.2" x2="421.3" y2="284.2" stroke="#1a1a1a" stroke-width="1.2" />
<path d="M409.10 279.20L409.10 282.00M407.89 279.90L410.31 281.30M410.31 279.90L407.89 281.30" stroke="#1a1a1a" stroke-width="1.0" fill="none"/>
<line x1="462.6" y1="364.3" x2="487" y2="364.3" stroke="#1a1a1a" stroke-width="1.2" />
<text transform="translate(460.30,360.40) scale(1.0543,1)" font-size="7.3" fill="#333">p=0.066</text>
<text transform="translate(330.85,431.50) scale(0.9390,1)" font-size="11" fill="#1a1a1a">Basal</text>
<text transform="translate(317.76,446.00) scale(0.9888,1)" font-size="11.3" fill="#1a1a1a">respiration</text>
<text transform="translate(388.84,431.80) scale(1.0000,1)" font-size="11" fill="#1a1a1a">Maximal</text>
<text transform="translate(382.55,446.00) scale(1.0044,1)" font-size="11.3" fill="#1a1a1a">respiration</text>
<text transform="translate(463.88,431.80) scale(1.0000,1)" font-size="11" fill="#1a1a1a">ATP</text>
<text transform="translate(446.73,446.00) scale(1.0544,1)" font-size="11.3" fill="#1a1a1a">production</text>
<text transform="translate(273.60,395.13) rotate(-90) scale(0.9799,1)" fill="#1a1a1a" stroke="#1a1a1a" stroke-width="0.12"><tspan x="0.00" y="0" font-size="13.5">OCR (pmol/min)</tspan></text>
</svg>
</body></html>
